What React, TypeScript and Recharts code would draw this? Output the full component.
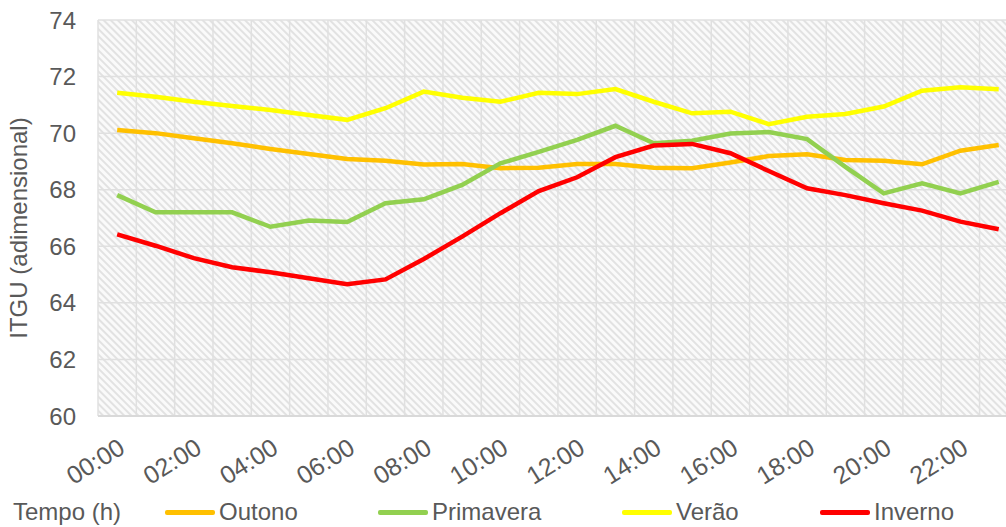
import React from 'react'
import { LineChart, Line, XAxis, YAxis, CartesianGrid, ReferenceLine, Legend } from 'recharts'

const hours = [
  '00:00', '01:00', '02:00', '03:00', '04:00', '05:00', '06:00', '07:00',
  '08:00', '09:00', '10:00', '11:00', '12:00', '13:00', '14:00', '15:00',
  '16:00', '17:00', '18:00', '19:00', '20:00', '21:00', '22:00', '23:00',
]
const outono = [
  70.11, 70.0, 69.82, 69.64, 69.44, 69.26, 69.09, 69.02, 68.89, 68.91, 68.76, 68.78,
  68.91, 68.91, 68.78, 68.76, 68.96, 69.19, 69.25, 69.05, 69.02, 68.9, 69.38, 69.58,
]
const primavera = [
  67.81, 67.2, 67.2, 67.2, 66.69, 66.91, 66.86, 67.52, 67.66, 68.17, 68.93, 69.34,
  69.76, 70.26, 69.64, 69.73, 69.99, 70.04, 69.79, 68.81, 67.87, 68.23, 67.87, 68.28,
]
const verao = [
  71.43, 71.29, 71.11, 70.96, 70.82, 70.64, 70.47, 70.88, 71.47, 71.25, 71.11, 71.43,
  71.38, 71.56, 71.11, 70.7, 70.76, 70.32, 70.58, 70.68, 70.94, 71.5, 71.62, 71.55,
]
const inverno = [
  66.42, 66.02, 65.58, 65.26, 65.08, 64.87, 64.66, 64.83, 65.55, 66.34, 67.17, 67.95,
  68.44, 69.15, 69.56, 69.62, 69.29, 68.66, 68.05, 67.81, 67.52, 67.26, 66.87, 66.6,
]
const yTicks = [60, 62, 64, 66, 68, 70, 72, 74]
const xTicks = [0, 2, 4, 6, 8, 10, 12, 14, 16, 18, 20, 22]

const series = [
  { key: 'outono', name: 'Outono', color: '#FFC000' },
  { key: 'primavera', name: 'Primavera', color: '#92D050' },
  { key: 'verao', name: 'Verão', color: '#FFFF00' },
  { key: 'inverno', name: 'Inverno', color: '#FF0000' },
]

const data = hours.map((h, i) => ({
  idx: i,
  hora: h,
  outono: outono[i],
  primavera: primavera[i],
  verao: verao[i],
  inverno: inverno[i],
}))

const FONT = '"Liberation Sans", Arial, sans-serif'
const TEXT = '#595959'
const GRID = '#e0e0e0'

function YLabel(props: any) {
  const vb = props.viewBox || {}
  const cy = vb.y + vb.height / 2 + 10
  return (
    <text x={27} y={cy} transform={`rotate(-90 27 ${cy})`} textAnchor="middle" fill={TEXT} fontSize={24} fontFamily={FONT}>
      ITGU (adimensional)
    </text>
  )
}

// legend row also carries the x axis title
const legendLeft = [165, 378, 622, 820]

function LegendRow() {
  return (
    <div style={{ position: 'relative', height: 38, fontFamily: FONT, fontSize: 24, color: TEXT }}>
      <span style={{ position: 'absolute', left: 13, top: 9 }}>Tempo (h)</span>
      {series.map((s, i) => (
        <span key={s.key} style={{ position: 'absolute', left: legendLeft[i], top: 9, display: 'flex', alignItems: 'center' }}>
          <span style={{ display: 'inline-block', width: 50, height: 5, borderRadius: 2, background: s.color, marginRight: 4 }} />
          {s.name}
        </span>
      ))}
    </div>
  )
}

export default function App() {
  return (
    <div style={{ position: 'absolute', left: 0, top: 0, width: 1006, height: 527, background: '#fff', overflow: 'hidden' }}>
      <LineChart width={1006} height={527} data={data} margin={{ top: 20, right: 0, bottom: 0, left: 0 }}>
        <defs>
          <pattern id="hatch" width="5" height="5" patternUnits="userSpaceOnUse" patternTransform="rotate(45)">
            <rect width="5" height="5" fill="#fafafa" />
            <rect width="5" height="2" fill="#e2e2e2" />
          </pattern>
        </defs>
        <CartesianGrid vertical={false} stroke={GRID} strokeWidth={1.5} fill="url(#hatch)" fillOpacity={1} />
        {hours.map((h, i) => (
          <ReferenceLine key={h} x={i - 0.5} stroke={GRID} strokeWidth={1.5} />
        ))}
        <XAxis
          type="number"
          dataKey="idx"
          domain={[-0.5, 23.19]}
          allowDataOverflow
          ticks={xTicks}
          tickFormatter={(v: number) => hours[v]}
          interval={0}
          height={73}
          tickLine={false}
          axisLine={{ stroke: '#d9d9d9', strokeWidth: 2 }}
          angle={-32}
          textAnchor="end"
          tickSize={0}
          tickMargin={21}
          tick={{ fill: TEXT, fontSize: 25, fontFamily: FONT }}
        />
        <YAxis
          domain={[60, 74]}
          ticks={yTicks}
          interval={0}
          width={98}
          tickLine={false}
          axisLine={false}
          tickSize={0}
          tickMargin={22}
          tick={{ fill: TEXT, fontSize: 24, fontFamily: FONT }}
          label={<YLabel />}
        />
        <Legend verticalAlign="bottom" content={() => <LegendRow />} wrapperStyle={{ left: 0, width: 1006 }} />
        {series.map((s) => (
          <Line
            key={s.key}
            type="linear"
            dataKey={s.key}
            name={s.name}
            stroke={s.color}
            strokeWidth={4.5}
            dot={false}
            isAnimationActive={false}
          />
        ))}
      </LineChart>
    </div>
  )
}
